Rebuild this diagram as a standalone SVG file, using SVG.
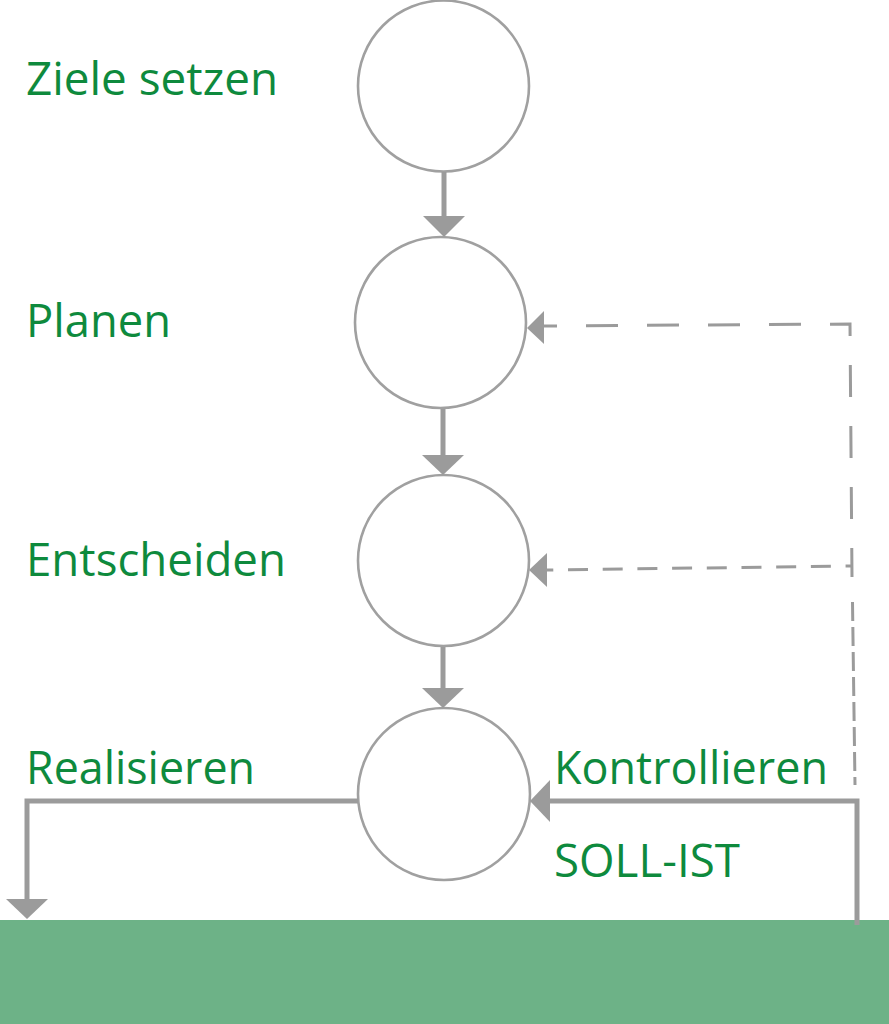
<svg xmlns="http://www.w3.org/2000/svg" width="889" height="1024" viewBox="0 0 889 1024">
<style>
.lbl{font-family:"Open Sans","Liberation Sans",sans-serif;font-size:46px;fill:#0e8a3d;}
.node circle{fill:#ffffff;stroke:#a0a0a0;stroke-width:2.6;}
.solid{fill:none;stroke:#9b9b9b;stroke-width:5;}
.dash{fill:none;stroke:#9b9b9b;stroke-width:3;}
.head{fill:#9b9b9b;}
</style>
<rect id="ground" x="0" y="920" width="889" height="104" fill="#6db287"/>
<g id="node-ziele" class="node">
<circle cx="443.5" cy="86" r="85.5"/>
<text class="lbl" x="26" y="95" textLength="252" lengthAdjust="spacingAndGlyphs">Ziele setzen</text>
</g>
<g id="node-planen" class="node">
<circle cx="440.5" cy="322.5" r="85.5"/>
<text class="lbl" x="26" y="337" textLength="145" lengthAdjust="spacingAndGlyphs">Planen</text>
</g>
<g id="node-entscheiden" class="node">
<circle cx="443.5" cy="560.5" r="85.5"/>
<text class="lbl" x="26" y="576" textLength="260" lengthAdjust="spacingAndGlyphs">Entscheiden</text>
</g>
<g id="node-realisieren" class="node">
<circle cx="444" cy="794" r="86"/>
<text class="lbl" x="26" y="784" textLength="229" lengthAdjust="spacingAndGlyphs">Realisieren</text>
<text class="lbl" x="554" y="784" textLength="274" lengthAdjust="spacingAndGlyphs">Kontrollieren</text>
<text class="lbl" x="554" y="877" textLength="186" lengthAdjust="spacingAndGlyphs">SOLL-IST</text>
</g>
<g id="connectors">
<path class="solid" d="M444 172 L444 218"/>
<polygon class="head" points="423,216 465,216 444,237"/>
<path class="solid" d="M443 409 L443 457"/>
<polygon class="head" points="422,455 464,455 443,475"/>
<path class="solid" d="M443 647 L443 690"/>
<polygon class="head" points="422,688 464,688 443,708"/>
<path class="dash" d="M543 326 L850 324 L852 577" stroke-dasharray="32 29" stroke-dashoffset="18"/>
<path class="dash" d="M852.5 602 L855 785" stroke-dasharray="19 6"/>
<polygon class="head" points="527,328 544,311 544,344"/>
<path class="dash" d="M547 570 L853 566" stroke-dasharray="20 14.7" stroke-dashoffset="13.7"/>
<polygon class="head" points="529,570 547,553 547,587"/>
<path class="solid" d="M857 925 L857 801 L549 801"/>
<polygon class="head" points="530,801 550,780 550,822"/>
<path class="solid" d="M358 801 L27 801 L27 901"/>
<polygon class="head" points="6,899 48,899 27,919"/>
</g>
</svg>
